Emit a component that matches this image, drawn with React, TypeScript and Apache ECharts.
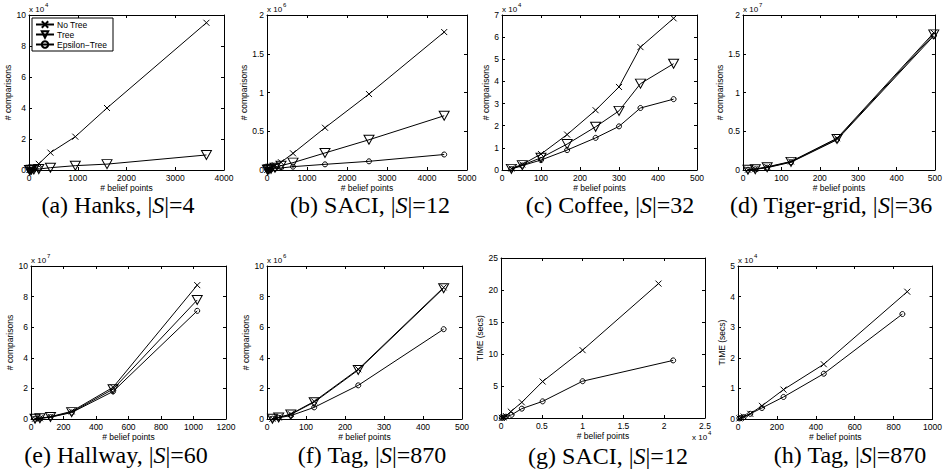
import React, { useEffect, useRef } from "react";
import * as echarts from "echarts";

// ---------- DATA (in the axes' displayed units) ----------
// (a) Hanks, |S|=4 — # comparisons (x 10^4)
const hanksX = [10, 25, 50, 100, 200, 440, 950, 1600, 3640];
const hanksNoTree = [0.005, 0.02, 0.06, 0.15, 0.4, 1.12, 2.15, 4.0, 9.5];
const hanksTree = [0.003, 0.008, 0.015, 0.03, 0.06, 0.15, 0.28, 0.38, 0.97];
const hanksEpsX = [10, 25, 50, 100, 200];
const hanksEps = [0.003, 0.008, 0.02, 0.04, 0.08];

// (b) SACI, |S|=12 — # comparisons (x 10^6)
const saciX = [10, 25, 50, 100, 200, 350, 650, 1450, 2550, 4430];
const saciNoTree = [0.003, 0.008, 0.015, 0.03, 0.06, 0.1, 0.215, 0.545, 0.98, 1.78];
const saciTree = [0.002, 0.005, 0.01, 0.015, 0.03, 0.056, 0.095, 0.22, 0.39, 0.7];
const saciEps = [0.001, 0.003, 0.006, 0.01, 0.017, 0.026, 0.043, 0.073, 0.112, 0.2];

// (c) Coffee, |S|=32 — # comparisons (x 10^4)
const coffeeX = [24, 52, 100, 167, 240, 300, 355, 440];
const coffeeNoTree = [0.07, 0.25, 0.72, 1.6, 2.7, 3.75, 5.55, 6.85];
const coffeeTree = [0.05, 0.22, 0.55, 1.17, 1.95, 2.67, 3.9, 4.8];
const coffeeEps = [0.04, 0.2, 0.45, 0.9, 1.45, 1.97, 2.8, 3.2];

// (d) Tiger-grid, |S|=36 — # comparisons (x 10^7)
const tigerX = [13, 32, 63, 125, 245, 497];
const tigerNoTree = [0.005, 0.012, 0.04, 0.11, 0.41, 1.77];
const tigerTree = [0.004, 0.01, 0.035, 0.105, 0.4, 1.75];
const tigerEps = [0.003, 0.009, 0.03, 0.1, 0.39, 1.73];

// (e) Hallway, |S|=60 — # comparisons (x 10^7)
const hallX = [25, 55, 120, 250, 505, 1023];
const hallNoTree = [0.02, 0.05, 0.15, 0.5, 2.07, 8.75];
const hallTree = [0.02, 0.05, 0.13, 0.45, 1.95, 7.78];
const hallEps = [0.02, 0.04, 0.12, 0.42, 1.8, 7.07];

// (f) Tag, |S|=870 — # comparisons (x 10^6)
const tagX = [14, 30, 61, 121, 234, 453];
const tagNoTree = [0.02, 0.1, 0.32, 1.15, 3.25, 8.6];
const tagTree = [0.02, 0.1, 0.3, 1.1, 3.2, 8.55];
const tagEps = [0.02, 0.08, 0.22, 0.76, 2.2, 5.87];

// (g) SACI, |S|=12 — TIME (secs); belief points (x 10^4)
const saciTimeNoTreeX = [0.01, 0.03, 0.06, 0.12, 0.255, 0.51, 1.0, 1.93];
const saciTimeNoTree = [0.02, 0.1, 0.3, 1.0, 2.45, 5.7, 10.6, 21.0];
const saciTimeEpsX = [0.01, 0.03, 0.06, 0.13, 0.255, 0.51, 1.0, 2.11];
const saciTimeEps = [0.02, 0.08, 0.2, 0.5, 1.46, 2.6, 5.75, 9.0];

// (h) Tag, |S|=870 — TIME (secs) (x 10^4)
const tagTimeNoTreeX = [7, 14, 29, 63, 123, 234, 441, 870];
const tagTimeNoTree = [0.02, 0.04, 0.08, 0.17, 0.43, 0.96, 1.79, 4.16];
const tagTimeEpsX = [7, 14, 29, 63, 123, 234, 441, 845];
const tagTimeEps = [0.02, 0.03, 0.06, 0.17, 0.36, 0.72, 1.48, 3.43];

const NAMES = ["No Tree", "Tree", "Epsilon\u2212Tree"];
const CAPTIONS = [
  ["(a) Hanks, |", "|=4"],
  ["(b) SACI, |", "|=12"],
  ["(c) Coffee, |", "|=32"],
  ["(d) Tiger-grid, |", "|=36"],
  ["(e) Hallway, |", "|=60"],
  ["(f) Tag, |", "|=870"],
  ["(g) SACI, |", "|=12"],
  ["(h) Tag, |", "|=870"],
];
const EXPONENTS = ["4", "6", "4", "7", "7", "6", "4", "4"];

type Line = { kind: number; x: number[]; y: number[] };
const PANEL_LINES: Line[][] = [
  [
    { kind: 0, x: hanksX, y: hanksNoTree },
    { kind: 1, x: hanksX, y: hanksTree },
    { kind: 2, x: hanksEpsX, y: hanksEps },
  ],
  [
    { kind: 0, x: saciX, y: saciNoTree },
    { kind: 1, x: saciX, y: saciTree },
    { kind: 2, x: saciX, y: saciEps },
  ],
  [
    { kind: 0, x: coffeeX, y: coffeeNoTree },
    { kind: 1, x: coffeeX, y: coffeeTree },
    { kind: 2, x: coffeeX, y: coffeeEps },
  ],
  [
    { kind: 0, x: tigerX, y: tigerNoTree },
    { kind: 1, x: tigerX, y: tigerTree },
    { kind: 2, x: tigerX, y: tigerEps },
  ],
  [
    { kind: 0, x: hallX, y: hallNoTree },
    { kind: 1, x: hallX, y: hallTree },
    { kind: 2, x: hallX, y: hallEps },
  ],
  [
    { kind: 0, x: tagX, y: tagNoTree },
    { kind: 1, x: tagX, y: tagTree },
    { kind: 2, x: tagX, y: tagEps },
  ],
  [
    { kind: 0, x: saciTimeNoTreeX, y: saciTimeNoTree },
    { kind: 2, x: saciTimeEpsX, y: saciTimeEps },
  ],
  [
    { kind: 0, x: tagTimeNoTreeX, y: tagTimeNoTree },
    { kind: 2, x: tagTimeEpsX, y: tagTimeEps },
  ],
];

// ---------- LAYOUT ----------
// [left, top, width, height, xMax, xInterval, yMax, yInterval, yNameGap]
const LAYOUT: number[][] = [
  [29, 15, 195, 155, 4000, 1000, 10, 2, 11],
  [267, 15, 200, 155, 5000, 1000, 2, 0.5, 9],
  [502, 15, 195, 155, 500, 100, 7, 1, 9],
  [743, 15, 194, 155, 500, 100, 2, 0.5, 15],
  [31, 266, 195, 153, 1200, 200, 10, 2, 13],
  [267, 266, 195, 153, 500, 100, 10, 2, 14],
  [501, 258, 204, 160, 2.5, 0.5, 25, 5, 12],
  [738, 266, 195, 153, 1000, 200, 5, 1, 8],
];
const YNAMES = [
  "# comparisons", "# comparisons", "# comparisons", "# comparisons",
  "# comparisons", "# comparisons", "TIME (secs)", "TIME (secs)",
];
const CAPTION_X = [118, 370, 610, 831, 116, 372, 608, 850];
const CAPTION_Y = [205, 205, 205, 205, 455, 455, 456, 455];

const SANS = "Liberation Sans, Arial, sans-serif";
const SERIF = "Liberation Serif, Times New Roman, serif";
const X_PATH = "path://M0,0L10,10M10,0L0,10";

export default function App() {
  const ref = useRef<HTMLDivElement>(null);
  useEffect(() => {
    const chart = echarts.init(ref.current!, null, { renderer: "svg" });
    const grid: any[] = [];
    const xAxis: any[] = [];
    const yAxis: any[] = [];
    const series: any[] = [];
    const graphic: any[] = [];
    const tick = { show: true, inside: true, length: 3, lineStyle: { color: "#000", width: 1 } };
    const line = { show: true, onZero: false, lineStyle: { color: "#000", width: 1 } };
    const lbl = {
      show: true, color: "#000", fontSize: 8.5, fontFamily: SANS, margin: 3,
      formatter: (v: number) => String(v),
    };

    LAYOUT.forEach((L, gi) => {
      const [left, top, width, height, xMax, xInt, yMax, yInt, yGap] = L;
      grid.push({ left, top, width, height, containLabel: false });
      xAxis.push({
        type: "value", gridIndex: gi, min: 0, max: xMax, interval: xInt,
        axisLine: line, axisTick: tick, axisLabel: lbl, splitLine: { show: false },
        name: "# belief points", nameLocation: "middle", nameGap: 13,
        nameTextStyle: { color: "#000", fontSize: 8.5, fontFamily: SANS },
      });
      xAxis.push({
        type: "value", gridIndex: gi, position: "top", min: 0, max: xMax, interval: xInt,
        axisLine: line, axisTick: tick, axisLabel: { show: false }, splitLine: { show: false },
      });
      yAxis.push({
        type: "value", gridIndex: gi, min: 0, max: yMax, interval: yInt,
        axisLine: line, axisTick: tick, axisLabel: lbl, splitLine: { show: false },
        name: YNAMES[gi], nameLocation: "middle", nameGap: yGap,
        nameTextStyle: { color: "#000", fontSize: 8.5, fontFamily: SANS },
      });
      yAxis.push({
        type: "value", gridIndex: gi, position: "right", min: 0, max: yMax, interval: yInt,
        axisLine: line, axisTick: tick, axisLabel: { show: false }, splitLine: { show: false },
      });

      PANEL_LINES[gi].forEach((ln) => {
        const k = ln.kind;
        series.push({
          type: "line",
          name: NAMES[k],
          xAxisIndex: 2 * gi,
          yAxisIndex: 2 * gi,
          data: ln.x.map((x, i) => [x, ln.y[i]]),
          symbol: k === 0 ? X_PATH : k === 1 ? "triangle" : "circle",
          symbolSize: k === 0 ? 6 : k === 1 ? [10, 9] : 5,
          symbolRotate: k === 1 ? 180 : 0,
          showAllSymbol: true,
          lineStyle: { color: "#000", width: 1 },
          itemStyle: { color: "rgba(0,0,0,0)", borderColor: "#000", borderWidth: 1 },
          emphasis: { disabled: true },
          z: 3,
        });
      });

      // exponent labels
      if (gi === 6) {
        graphic.push({ type: "text", left: 692, top: 433, style: { text: "x 10", fontSize: 8, fontFamily: SANS, fill: "#000" } });
        graphic.push({ type: "text", left: 708, top: 430, style: { text: EXPONENTS[gi], fontSize: 6, fontFamily: SANS, fill: "#000" } });
      } else {
        graphic.push({ type: "text", left: left, top: top - 10, style: { text: "x 10", fontSize: 8, fontFamily: SANS, fill: "#000" } });
        graphic.push({ type: "text", left: left + 16, top: top - 13, style: { text: EXPONENTS[gi], fontSize: 6, fontFamily: SANS, fill: "#000" } });
      }

      // caption
      const [pre, post] = CAPTIONS[gi];
      graphic.push({
        type: "text",
        x: CAPTION_X[gi],
        y: CAPTION_Y[gi],
        style: {
          text: "{n|" + pre + "}{i|S}{n|" + post + "}",
          rich: {
            n: { fontSize: 24, fontFamily: SERIF, fontStyle: "normal", fill: "#000" },
            i: { fontSize: 24, fontFamily: SERIF, fontStyle: "italic", fill: "#000" },
          },
          fontSize: 24,
          fontFamily: SERIF,
          fill: "#000",
          align: "center",
          verticalAlign: "middle",
        },
      });
    });

    chart.setOption({
      animation: false,
      backgroundColor: "#fff",
      grid,
      xAxis,
      yAxis,
      series,
      graphic,
      legend: {
        data: NAMES,
        orient: "vertical",
        left: 32,
        top: 18,
        itemGap: 1,
        itemWidth: 18,
        itemHeight: 8,
        padding: [2, 6, 2, 3],
        selectedMode: false,
        borderColor: "#000",
        borderWidth: 1,
        borderRadius: 0,
        backgroundColor: "#fff",
        textStyle: { color: "#000", fontSize: 8.5, fontFamily: SANS, padding: [0, 0, 0, -2] },
      },
    });
    return () => chart.dispose();
  }, []);
  return <div ref={ref} style={{ position: "absolute", left: 0, top: 0, width: 945, height: 475 }} />;
}
